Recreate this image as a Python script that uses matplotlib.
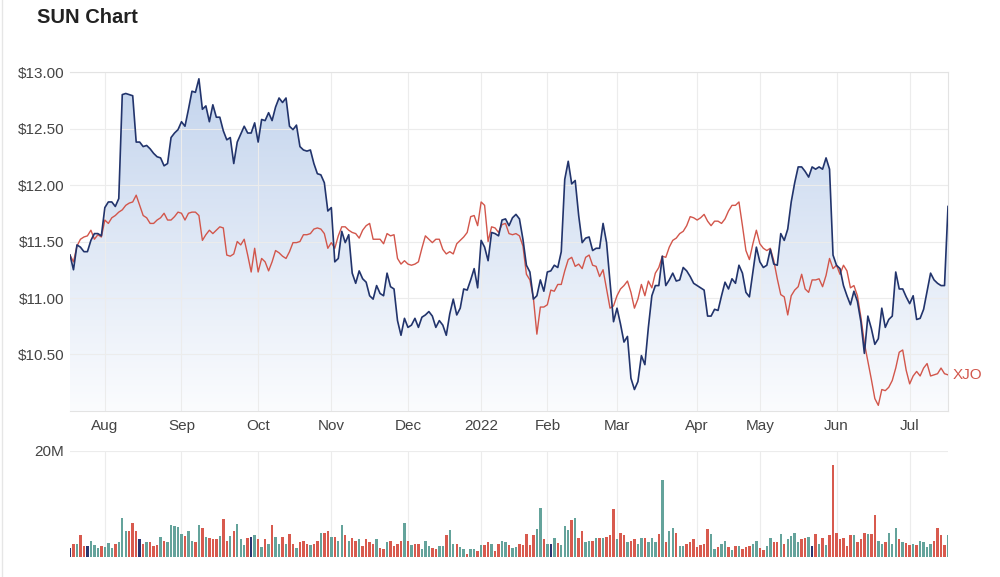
import numpy as np
import pandas as pd
import matplotlib
matplotlib.use('Agg')
import matplotlib.pyplot as plt
from matplotlib.lines import Line2D
from matplotlib.colors import LinearSegmentedColormap

plt.rcParams['font.family'] = ['Liberation Sans', 'DejaVu Sans']

# ASX trading days shown (ordinal axis, no gaps)
start_date = '2021-07-19'
end_date = '2022-07-18'
asx_holidays = ['2021-12-27', '2021-12-28', '2022-01-03', '2022-01-26',
                '2022-04-15', '2022-04-18', '2022-04-25', '2022-06-13']

# SUN close ($)
sun_close = [
    11.38, 11.25, 11.47, 11.45, 11.41, 11.41, 11.51, 11.57, 11.57, 11.55,
    11.80, 11.85, 11.85, 11.81, 11.88, 12.80, 12.81, 12.80, 12.79, 12.38,
    12.38, 12.34, 12.35, 12.32, 12.28, 12.25, 12.24, 12.17, 12.19, 12.42,
    12.46, 12.49, 12.56, 12.52, 12.67, 12.83, 12.82, 12.94, 12.67, 12.70,
    12.56, 12.71, 12.60, 12.60, 12.48, 12.40, 12.42, 12.19, 12.38, 12.45,
    12.52, 12.46, 12.46, 12.55, 12.38, 12.58, 12.57, 12.64, 12.57, 12.69,
    12.77, 12.73, 12.77, 12.52, 12.49, 12.53, 12.34, 12.31, 12.30, 12.31,
    12.19, 12.10, 12.09, 12.02, 11.77, 11.80, 11.32, 11.35, 11.59, 11.49,
    11.56, 11.22, 11.13, 11.24, 11.17, 11.14, 11.02, 10.99, 11.11, 11.04,
    11.02, 11.22, 11.10, 11.08, 10.80, 10.67, 10.82, 10.74, 10.76, 10.82,
    10.74, 10.83, 10.85, 10.88, 10.84, 10.74, 10.80, 10.76, 10.67, 10.86,
    10.99, 10.85, 10.91, 11.08, 11.07, 11.16, 11.26, 11.09, 11.51, 11.45,
    11.33, 11.58, 11.57, 11.55, 11.69, 11.70, 11.64, 11.71, 11.74, 11.70,
    11.52, 11.29, 11.23, 10.99, 11.02, 11.16, 11.06, 11.23, 11.24, 11.29,
    11.27, 11.41, 12.05, 12.21, 12.01, 12.04, 11.73, 11.49, 11.53, 11.54,
    11.42, 11.44, 11.44, 11.66, 11.49, 11.14, 10.79, 10.91, 10.77, 10.61,
    10.66, 10.29, 10.19, 10.26, 10.49, 10.41, 10.74, 11.02, 11.11, 11.11,
    11.37, 11.11, 11.16, 11.22, 11.15, 11.16, 11.27, 11.24, 11.19, 11.13,
    11.11, 11.09, 11.07, 10.84, 10.84, 10.90, 10.89, 11.02, 11.14, 11.08,
    11.17, 11.13, 11.29, 11.22, 11.05, 11.01, 11.23, 11.45, 11.32, 11.27,
    11.29, 11.43, 11.30, 11.29, 11.57, 11.51, 11.61, 11.85, 12.02, 12.16,
    12.16, 12.12, 12.07, 12.16, 12.14, 12.16, 12.14, 12.24, 12.14, 11.38,
    11.29, 11.26, 11.11, 11.02, 10.94, 11.06, 10.97, 10.79, 10.51, 10.84,
    10.73, 10.59, 10.64, 10.91, 10.74, 10.81, 10.84, 11.23, 11.08, 11.08,
    11.01, 10.95, 11.02, 10.81, 10.82, 10.90, 11.06, 11.22, 11.16, 11.13,
    11.11, 11.11, 11.81,
]

# XJO rebased to SUN's first close
xjo_rebased = [
    11.38, 11.32, 11.46, 11.52, 11.54, 11.55, 11.60, 11.52, 11.56, 11.54,
    11.69, 11.66, 11.71, 11.73, 11.76, 11.78, 11.82, 11.84, 11.85, 11.91,
    11.82, 11.73, 11.71, 11.66, 11.66, 11.69, 11.71, 11.75, 11.69, 11.69,
    11.72, 11.76, 11.75, 11.69, 11.75, 11.76, 11.76, 11.73, 11.51, 11.56,
    11.60, 11.57, 11.60, 11.63, 11.62, 11.38, 11.37, 11.39, 11.50, 11.47,
    11.52, 11.38, 11.23, 11.44, 11.23, 11.35, 11.32, 11.24, 11.32, 11.42,
    11.40, 11.37, 11.35, 11.41, 11.49, 11.49, 11.50, 11.56, 11.56, 11.57,
    11.61, 11.62, 11.61, 11.57, 11.44, 11.49, 11.44, 11.55, 11.63, 11.63,
    11.60, 11.58, 11.57, 11.53, 11.60, 11.64, 11.66, 11.52, 11.52, 11.52,
    11.48, 11.57, 11.55, 11.56, 11.35, 11.30, 11.33, 11.30, 11.29, 11.30,
    11.32, 11.44, 11.55, 11.52, 11.49, 11.52, 11.52, 11.43, 11.39, 11.41,
    11.39, 11.48, 11.51, 11.54, 11.58, 11.72, 11.73, 11.64, 11.85, 11.82,
    11.50, 11.63, 11.62, 11.58, 11.65, 11.66, 11.57, 11.56, 11.57, 11.55,
    11.46, 11.21, 11.16, 11.00, 10.68, 10.92, 10.92, 10.94, 11.07, 11.06,
    11.12, 11.12, 11.24, 11.34, 11.36, 11.28, 11.30, 11.26, 11.36, 11.38,
    11.29, 11.28, 11.19, 11.25, 11.08, 10.91, 10.93, 11.02, 11.08, 11.11,
    11.15, 11.05, 10.91, 10.99, 11.12, 11.02, 11.15, 11.09, 11.22, 11.27,
    11.37, 11.36, 11.45, 11.51, 11.53, 11.57, 11.59, 11.64, 11.72, 11.71,
    11.69, 11.71, 11.74, 11.68, 11.64, 11.68, 11.68, 11.66, 11.70, 11.77,
    11.82, 11.82, 11.85, 11.64, 11.42, 11.34, 11.48, 11.60, 11.48, 11.44,
    11.42, 11.44, 11.33, 11.17, 11.03, 11.01, 10.85, 11.02, 11.07, 11.10,
    11.21, 11.08, 11.05, 11.16, 11.16, 11.17, 11.10, 11.20, 11.35, 11.26,
    11.29, 11.21, 11.29, 11.24, 11.09, 11.11, 11.02, 10.83, 10.60, 10.44,
    10.28, 10.11, 10.05, 10.19, 10.18, 10.21, 10.27, 10.38, 10.52, 10.54,
    10.36, 10.24, 10.31, 10.35, 10.31, 10.38, 10.42, 10.31, 10.32, 10.33,
    10.38, 10.33, 10.32,
]

# daily volume (millions)
volume_m = [
    1.6, 2.4, 2.5, 4.1, 2.0, 2.0, 3.0, 2.2, 1.7, 2.0,
    1.9, 2.6, 1.6, 2.4, 2.8, 7.4, 4.9, 4.9, 6.5, 4.9,
    3.3, 2.5, 2.8, 2.8, 2.0, 2.2, 3.8, 3.0, 2.8, 6.0,
    5.8, 5.7, 4.4, 3.9, 4.9, 3.0, 2.8, 6.1, 5.5, 3.7,
    3.5, 3.3, 3.3, 3.9, 7.1, 3.0, 3.9, 4.9, 6.2, 3.3,
    2.2, 3.5, 3.7, 4.2, 3.3, 1.9, 3.3, 2.5, 6.1, 3.7,
    2.4, 3.7, 2.4, 4.4, 2.5, 1.6, 2.8, 3.0, 2.5, 2.2,
    2.5, 3.0, 4.6, 4.6, 4.9, 3.7, 3.7, 3.0, 6.0, 4.1,
    3.0, 3.5, 3.0, 3.3, 2.0, 3.3, 2.8, 2.4, 3.3, 1.6,
    1.5, 2.8, 3.0, 2.0, 2.4, 3.0, 6.5, 3.0, 2.2, 2.4,
    2.4, 1.5, 3.0, 2.0, 1.6, 1.5, 2.0, 2.0, 4.1, 5.0,
    2.5, 2.4, 1.9, 1.5, 0.6, 1.5, 1.5, 1.1, 2.2, 2.2,
    2.8, 2.4, 1.1, 2.4, 3.0, 2.8, 2.2, 1.7, 1.9, 2.5,
    2.2, 4.4, 2.2, 4.1, 5.2, 9.3, 3.3, 2.5, 2.5, 3.5,
    2.6, 2.2, 5.8, 5.0, 6.9, 7.3, 3.5, 4.9, 2.8, 3.0,
    3.0, 3.5, 3.5, 3.5, 3.8, 4.2, 9.0, 3.3, 4.6, 4.2,
    2.8, 3.0, 3.3, 2.5, 3.5, 3.5, 2.8, 3.5, 2.8, 4.4,
    14.6, 2.8, 4.9, 5.4, 4.6, 2.0, 2.0, 2.4, 2.8, 3.3,
    1.9, 2.2, 2.4, 5.2, 4.4, 1.5, 1.9, 2.5, 3.0, 1.9,
    1.3, 2.0, 2.0, 1.5, 1.9, 2.0, 2.4, 3.0, 1.6, 1.3,
    2.0, 3.5, 2.8, 2.8, 4.4, 2.4, 3.3, 3.9, 4.6, 2.8,
    3.3, 3.5, 3.7, 2.0, 4.4, 2.4, 3.5, 2.2, 4.2, 17.4,
    4.6, 3.3, 3.5, 2.0, 4.2, 4.1, 2.8, 3.3, 4.6, 4.4,
    4.4, 7.9, 3.0, 2.5, 2.8, 4.6, 2.5, 5.4, 3.3, 2.8,
    2.6, 2.2, 2.4, 2.2, 3.0, 2.8, 1.9, 2.4, 3.0, 5.4,
    4.2, 2.2, 4.2,
]

# bar direction: G up, R down, N unchanged
volume_dir = (
    "NRGRRNGGGR" "GGGRGGGRRR" "NRGRRRGRGG" "GGGRGGRGRG" "RRRGRRGRGG"
    "GRNGRGRGRG" "GRGRRGRRRG" "RRGRRGRGGR" "GRRGRRRRGR" "RGRRRRGRGR"
    "RGGGRRGGRG" "GRGGRGGRGR" "RGRRGGRGGR" "RRRRGGRGNG" "RGGGRGRRGG"
    "RGRGRRRGRR" "GRRGGRGGGR" "GRGGRGGRRR" "RRRRGGRGGR" "GRGRRRGGRR"
    "GGRRGRGGGG" "RRGNRGRGRR" "RRRRRGRRRG" "RRGGRGGGRG" "RRGRGGGGRR"
    "RRG"
)

dates = pd.bdate_range(start_date, end_date, freq='C', holidays=asx_holidays)
x = np.arange(len(dates))

# month tick positions on the ordinal axis
month_idx = [i for i in range(1, len(dates)) if dates[i].month != dates[i - 1].month]
month_lbl = [str(dates[i].year) if dates[i].month == 1 else dates[i].strftime('%b')
             for i in month_idx]

navy = '#22346c'
red = '#d2564b'
grid_c = '#ececec'
bar_colors = {'G': '#64a39b', 'R': '#d85a4e', 'N': '#2a3670'}

fig = plt.figure(figsize=(10, 5.77), dpi=100)
ax = fig.add_axes([0.07, 0.2877, 0.878, 0.5875])
axv = fig.add_axes([0.07, 0.0347, 0.878, 0.1837])

# price panel
ax.set_xlim(0, len(x) - 1)
ax.set_ylim(10.0, 13.0)
poly = ax.fill_between(x, sun_close, 10.0, color='none', lw=0)
cmap = LinearSegmentedColormap.from_list('fade', ['#fbfcfe', '#c3d4ed'])
grad = np.linspace(0, 1, 256).reshape(-1, 1)
img = ax.imshow(grad, cmap=cmap, origin='lower', aspect='auto',
                extent=[0, len(x) - 1, 10.0, 13.0], zorder=1)
img.set_clip_path(poly.get_paths()[0], transform=ax.transData)
ax.plot(x, xjo_rebased, color=red, lw=1.0, zorder=3)
ax.plot(x, sun_close, color=navy, lw=1.2, zorder=4)
ax.annotate('XJO', (x[-1], xjo_rebased[-1]), xytext=(3, 0), textcoords='offset points',
            color=red, fontsize=11, va='center', ha='left', annotation_clip=False)

ax.set_yticks([10.5, 11.0, 11.5, 12.0, 12.5, 13.0])
ax.set_yticklabels(['$%.2f' % v for v in [10.5, 11.0, 11.5, 12.0, 12.5, 13.0]])
ax.set_xticks(month_idx)
ax.set_xticklabels(month_lbl)
ax.tick_params(length=0, labelsize=11, labelcolor='#444444', pad=6)
ax.tick_params(axis='y', pad=4)
ax.grid(True, color=grid_c, lw=0.8, zorder=0)
for s in ax.spines.values():
    s.set_color('#e3e3e3')
    s.set_linewidth(0.8)
ax.spines['left'].set_visible(False)

# volume panel
vol_c = [bar_colors[c] for c in volume_dir]
axv.bar(x, np.array(volume_m) * 1e6, width=0.7, color=vol_c, zorder=2)
axv.set_xlim(0, len(x) - 1)
axv.set_ylim(0, 20e6)
axv.set_yticks([20e6])
axv.set_yticklabels(['20M'])
axv.set_xticks(month_idx)
axv.set_xticklabels([])
axv.tick_params(length=0, labelsize=11, labelcolor='#444444', pad=4)
axv.grid(True, color=grid_c, lw=0.8, zorder=0)
for s in axv.spines.values():
    s.set_visible(False)

fig.text(0.037, 0.9705, 'SUN Chart', fontsize=14.5, fontweight='bold',
         color='#222222', va='center', ha='left')
fig.add_artist(Line2D([0.002, 0.002], [0, 1], color='#e6e6e6', lw=1.0))

fig.savefig('out.png', dpi=100)
plt.close(fig)
